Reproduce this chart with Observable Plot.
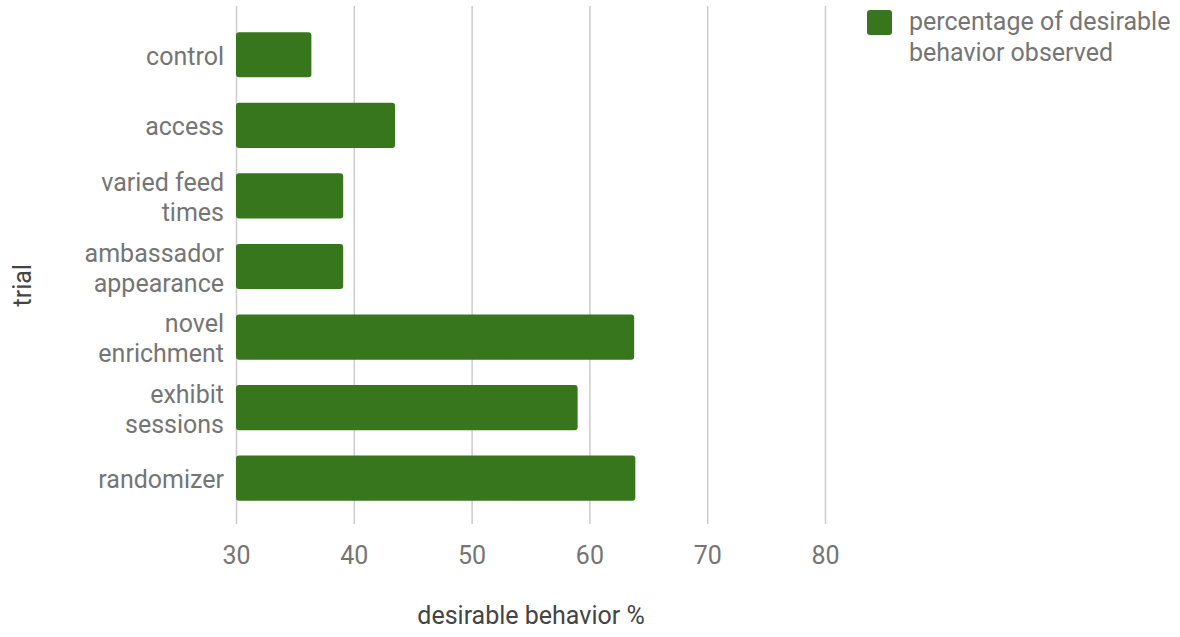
<!DOCTYPE html>
<html>
<head>
<meta charset="utf-8">
<script src="https://cdn.jsdelivr.net/npm/d3@7"></script>
<script src="https://cdn.jsdelivr.net/npm/@observablehq/plot@0.6"></script>
<style>
  body { margin: 0; background: #fff; font-family: Roboto, sans-serif; }
  #wrap { position: relative; width: 1180px; height: 637px; }
  .legend { position: absolute; left: 867px; top: 10px; display: flex; align-items: flex-start; }
  .legend .swatch { width: 25px; height: 25px; border-radius: 3px; margin-right: 17px; flex: none; }
  .legend .name { font-size: 25px; line-height: 31px; color: #757575; margin-top: -4px; width: 290px; }
</style>
</head>
<body>
<div id="wrap"></div>
<script>
// Trials and their share of desirable behaviour
const trials = [
  "control",
  "access",
  "varied feed times",
  "ambassador appearance",
  "novel enrichment",
  "exhibit sessions",
  "randomizer"
];
const tickLabels = [
  "control",
  "access",
  "varied feed\ntimes",
  "ambassador\nappearance",
  "novel\nenrichment",
  "exhibit\nsessions",
  "randomizer"
];
const values = [36.4, 43.5, 39.1, 39.1, 63.8, 59.0, 63.9];
const xDomain = [30, 80];
const xTicks = [30, 40, 50, 60, 70, 80];

const seriesName = "percentage of desirable behavior observed";
const xTitle = "desirable behavior %";
const yTitle = "trial";
const barColor = "#38761d";

const data = trials.map((t, i) => ({ trial: t, value: values[i] }));

const chart = Plot.plot({
  width: 1180,
  height: 637,
  marginLeft: 236,
  marginRight: 355,
  marginTop: 6,
  marginBottom: 113,
  style: { fontFamily: "Roboto, sans-serif", fontSize: "25px", color: "#757575", background: "#fff" },
  x: { domain: xDomain },
  y: { domain: trials, paddingInner: 0.36, paddingOuter: 0.35, align: 0.53, round: false },
  marks: [
    Plot.gridX(xTicks, { stroke: "#cccccc", strokeOpacity: 1, strokeWidth: 1.5 }),
    Plot.barX(data, { y: "trial", x1: xDomain[0], x2: "value", fill: barColor, rx: 3 }),
    Plot.axisX(xTicks, { tickSize: 0, tickPadding: 22, fill: "#757575", fontSize: 25, label: null }),
    Plot.axisY({
      tickSize: 0,
      tickPadding: 12.5,
      tickFormat: (d) => tickLabels[trials.indexOf(d)],
      lineHeight: 1.2,
      fill: "#757575",
      fontSize: 25,
      label: null
    }),
    Plot.text([xTitle], { text: (d) => d, frameAnchor: "bottom", dy: 99, fill: "#444", fontSize: 25 }),
    Plot.text([yTitle], { text: (d) => d, frameAnchor: "left", dx: -214, dy: 41, rotate: -90, fill: "#444", fontSize: 25 })
  ]
});

const wrap = document.getElementById("wrap");
wrap.appendChild(chart);

// Series legend, top right
const legend = document.createElement("div");
legend.className = "legend";
legend.innerHTML = `<div class="swatch" style="background:${barColor}"></div><div class="name">${seriesName}</div>`;
wrap.appendChild(legend);
</script>
</body>
</html>
